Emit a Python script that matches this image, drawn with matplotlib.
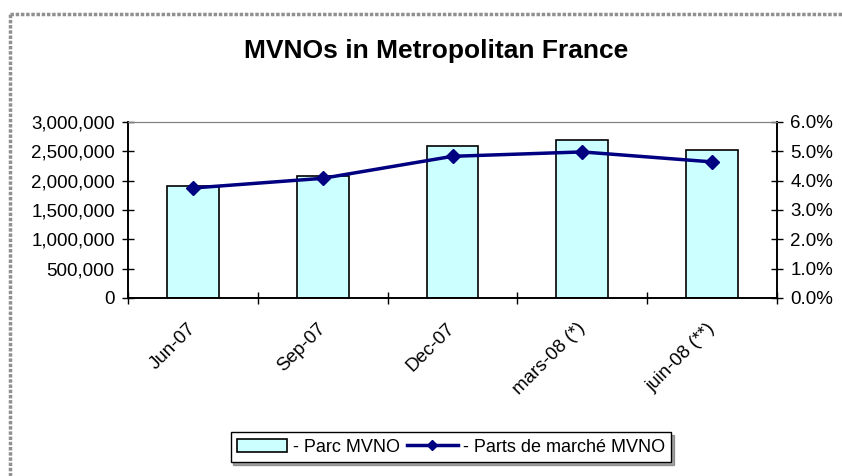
import numpy as np
import matplotlib.pyplot as plt
from matplotlib.patches import Patch
from matplotlib.lines import Line2D
from matplotlib.ticker import FuncFormatter

plt.rcParams['font.family'] = ['Liberation Sans', 'DejaVu Sans']

# donnees
categories = ['Jun-07', 'Sep-07', 'Dec-07', 'mars-08 (*)', 'juin-08 (**)']
parc_mvno = [1910000, 2075000, 2590000, 2685000, 2520000]
parts_marche = [0.0375, 0.0408, 0.0483, 0.0498, 0.0464]

fig = plt.figure(figsize=(8.42, 4.76), dpi=100)
ax = fig.add_axes([128 / 842, 1 - 298 / 476, 649 / 842, 176 / 476])

x = np.arange(len(categories))
ax.bar(x, parc_mvno, width=0.4, color='#CCFFFF', edgecolor='black', linewidth=1.2, zorder=2)
ax.set_xlim(-0.5, len(categories) - 0.5)
ax.set_ylim(0, 3000000)
ax.set_yticks(np.arange(0, 3000001, 500000))
ax.yaxis.set_major_formatter(FuncFormatter(lambda v, p: f'{int(v):,}'))

# ticks de l'axe x entre les categories
ax.set_xticks(np.arange(-0.5, len(categories), 1.0))
ax.set_xticklabels([])
ax.set_xticks(x, minor=True)
ax.set_xticklabels(categories, minor=True, rotation=45, ha='right', va='center',
                   rotation_mode='anchor', fontsize=13.5)
ax.tick_params(axis='x', which='minor', length=0, pad=20)
ax.tick_params(axis='x', which='major', direction='inout', length=9, width=1)
ax.tick_params(axis='y', direction='inout', length=9, width=1, labelsize=13.5, pad=5)

ax2 = ax.twinx()
ax2.plot(x, parts_marche, color='#000080', linewidth=2.5, marker='D', markersize=7, zorder=3)
ax2.set_ylim(0, 0.06)
ax2.set_yticks(np.arange(0, 0.0601, 0.01))
ax2.yaxis.set_major_formatter(FuncFormatter(lambda v, p: f'{v * 100:.1f}%'))
ax2.tick_params(axis='y', direction='inout', length=9, width=1, labelsize=13.5, pad=5)

for a in (ax, ax2):
    a.spines['top'].set_color('#808080')
    a.spines['left'].set_linewidth(1.2)
    a.spines['right'].set_linewidth(1.2)
    a.spines['bottom'].set_linewidth(1.2)

fig.text(436 / 842, 1 - 51 / 476, 'MVNOs in Metropolitan France', ha='center', va='center',
         fontsize=19, fontweight='bold')

# legende
handles = [Patch(facecolor='#CCFFFF', edgecolor='black', linewidth=1.2),
           Line2D([0], [0], color='#000080', linewidth=2.5, marker='D', markersize=5)]
leg = fig.legend(handles, ['- Parc MVNO', '- Parts de marché MVNO'], loc='center',
                 bbox_to_anchor=(451 / 842, 1 - 447 / 476), ncol=2, fontsize=13,
                 frameon=True, fancybox=False, shadow=True, handlelength=2.8,
                 handletextpad=0.3, columnspacing=0.4, borderpad=0.35, borderaxespad=0.3)
leg.get_frame().set_edgecolor('black')
leg.get_frame().set_linewidth(1)

# cadre du graphique
fig.add_artist(Line2D([10 / 842, 10 / 842], [0, 1 - 14 / 476], color='#909090', linewidth=2.5,
                      linestyle=(0, (1, 0.5))))
fig.add_artist(Line2D([10 / 842, 1], [1 - 14 / 476, 1 - 14 / 476], color='#909090', linewidth=2.5,
                      linestyle=(0, (1, 0.5))))

fig.savefig('out.png', dpi=100)
